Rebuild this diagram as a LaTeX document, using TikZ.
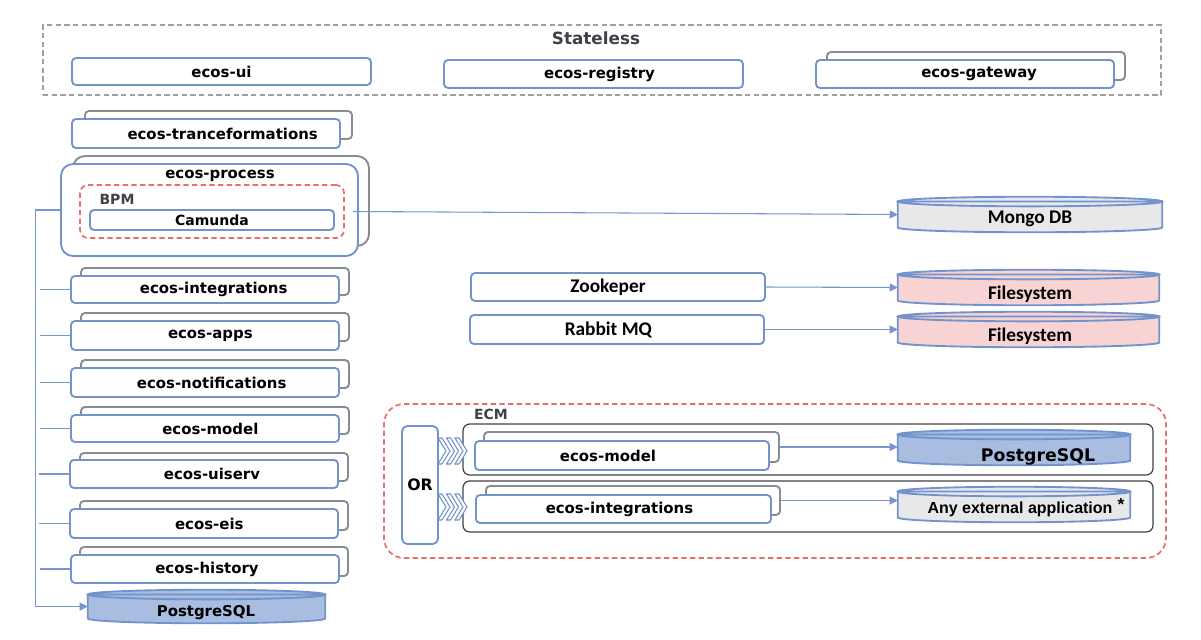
\documentclass[tikz,border=0pt]{standalone}
\usepackage{fontspec}
\usetikzlibrary{calc,arrows.meta}
\newfontfamily\dejavu{DejaVu Sans}
\newfontfamily\carl{Carlito}
\newfontfamily\libsans{Liberation Sans}
\definecolor{bl}{RGB}{114,147,203}
\definecolor{bk}{RGB}{136,139,150}
\definecolor{rd}{RGB}{234,110,110}
\definecolor{dg}{RGB}{64,64,72}
\definecolor{dbblue}{RGB}{169,189,224}
\definecolor{dbpink}{RGB}{248,211,211}
\definecolor{dbgray}{RGB}{231,232,234}
\definecolor{lnc}{RGB}{120,150,205}
\tikzset{
 fbox/.style={draw=bl, line width=1.4pt, rounded corners=3pt, fill=white, inner sep=0pt, font=\dejavu\bfseries\fontsize{11.2}{13}\selectfont},
 bbox/.style={draw=bk, line width=1.4pt, rounded corners=3pt, fill=white, inner sep=0pt},
 cbox/.style={draw=bl, line width=1.4pt, rounded corners=3pt, fill=white, inner sep=0pt, font=\carl\bfseries\fontsize{14.5}{16}\selectfont},
 dbnode/.style={inner sep=0pt},
 dbtxt/.style={font=\carl\bfseries\fontsize{14.5}{16}\selectfont, inner sep=0pt},
 dbtxtb/.style={font=\dejavu\bfseries\fontsize{13}{15}\selectfont, inner sep=0pt},
 grp/.style={font=\dejavu\bfseries\fontsize{10.5}{12}\selectfont, text=dg, inner sep=0pt},
 rowbox/.style={draw=dg, line width=0.9pt, rounded corners=5pt, inner sep=0pt},
 reddash/.style={draw=rd, line width=1.3pt, dash pattern=on 4pt off 2.5pt, inner sep=0pt},
 conn/.style={draw=lnc, line width=0.8pt},
 arr/.style={conn, -{Triangle[length=6pt,width=6pt]}},
 chev/.style={draw=bl, fill=white, line width=0.8pt},
}
% \bx{style}{name}{x1}{y1}{x2}{y2}{text}  (pixel coordinates of the corners)
\newcommand\bx[7]{\node[#1, minimum width={(#5-#3)*0.75pt}, minimum height={(#6-#4)*0.75pt}] (#2) at ({(#3+#5)/2},{(#4+#6)/2}) {#7};}
\newcommand\cyl[2]{%
  \path[draw=bl, line width=1.4pt, fill=#2] let \p1=(#1.north west), \p2=(#1.south east), \n1={(\x2-\x1)/2} in
   (\x1,\y1-3.6pt) -- (\x1,\y2+3.6pt) arc[start angle=180, end angle=360, x radius=\n1, y radius=3.6pt] -- (\x2,\y1-3.6pt) -- cycle
   ({(\x1+\x2)/2},\y1-3.6pt) ellipse[x radius=\n1, y radius=3.6pt];}
\newcommand\chevs[2]{%
  \foreach \k in {0,8.5,17}{
    \draw[chev] (#1+\k,#2-13) -- ++(4,0) -- ++(8,13) -- ++(-8,13) -- ++(-4,0) -- ++(8,-13) -- cycle;}}
\begin{document}
\begin{tikzpicture}[x=0.75pt, y=-0.75pt]
\useasboundingbox (0,0) rectangle (1201,639);

% Stateless group
\bx{draw=gray!75, line width=0.8pt, dash pattern=on 4pt off 2.5pt, inner sep=0pt}{stl}{43}{25}{1161}{95}{}
\node[font=\dejavu\bfseries\fontsize{12.6}{14}\selectfont, text=dg, inner sep=0pt] (stl-t) at (596,38) {Stateless};
\bx{fbox}{ui}{72}{58}{371}{85}{ecos-ui}
\bx{fbox}{reg}{444}{60}{743}{88}{\hspace*{9pt}ecos-registry}
\bx{bbox}{gw-b}{827}{52}{1125}{80}{}
\bx{fbox}{gw}{816}{60}{1114}{88}{\hspace*{21pt}ecos-gateway}

% left column
\bx{bbox}{tr-b}{85}{111}{352}{139}{}
\bx{fbox}{tr}{72}{119}{340}{148}{\hspace*{25pt}ecos-tranceformations}

\bx{bbox, rounded corners=9pt}{proc-b}{73}{156}{369}{246}{}
\bx{fbox, rounded corners=9pt}{proc}{61}{164}{358}{256}{}
\node[fbox, draw=none, fill=none] (proc-t) at (220,176) {ecos-process};
\bx{reddash, rounded corners=6pt}{bpm}{80}{185}{344}{238}{}
\node[grp] (bpm-t) at (117,199) {BPM};
\bx{fbox, font=\dejavu\bfseries\fontsize{10.5}{12}\selectfont}{cam}{90}{210}{334}{230}{Camunda}

\bx{bbox}{int1-b}{81}{268}{349}{295}{}
\bx{fbox}{int1}{71}{276}{339}{303}{\hspace*{13pt}ecos-integrations}
\bx{bbox}{apps-b}{81}{313}{349}{341}{}
\bx{fbox}{apps}{71}{321}{339}{350}{\hspace*{8pt}ecos-apps}
\bx{bbox}{notif-b}{81}{360}{349}{388}{}
\bx{fbox}{notif}{71}{368}{339}{397}{\hspace*{10pt}ecos-notifications}
\bx{bbox}{model1-b}{81}{407}{349}{434}{}
\bx{fbox}{model1}{71}{415}{339}{442}{\hspace*{8pt}ecos-model}
\bx{bbox}{uisv-b}{80}{453}{348}{481}{}
\bx{fbox}{uisv}{70}{460}{338}{488}{\hspace*{12pt}ecos-uiserv}
\bx{bbox}{eis-b}{80}{501}{348}{530}{}
\bx{fbox}{eis}{70}{509}{338}{538}{\hspace*{8pt}ecos-eis}
\bx{bbox}{hist-b}{80}{547}{348}{576}{}
\bx{fbox}{hist}{71}{555}{339}{583}{\hspace*{3pt}ecos-history}

\bx{dbnode}{pg1}{88}{590}{325}{623}{}
\cyl{pg1}{dbblue}
\node[fbox, draw=none, fill=none] (pg1-t) at (206,613) {PostgreSQL};

% databases right
\bx{dbnode}{mongo}{898}{197}{1162}{232}{}
\cyl{mongo}{dbgray}
\node[dbtxt] (mongo-t) at (1030,219) {Mongo DB};

\bx{cbox}{zk}{471}{273}{765}{301}{Zookeper\hspace*{15pt}}
\bx{dbnode}{fs1}{898}{270}{1159}{305}{}
\cyl{fs1}{dbpink}
\node[dbtxt] (fs1-t) at (1030,294) {Filesystem};

\bx{cbox}{rmq}{470}{315}{764}{344}{Rabbit MQ\hspace*{13pt}}
\bx{dbnode}{fs2}{898}{312}{1159}{347}{}
\cyl{fs2}{dbpink}
\node[dbtxt] (fs2-t) at (1030,336) {Filesystem};

% ECM group
\bx{reddash, rounded corners=15pt}{ecm}{384}{404}{1166}{558}{}
\node[grp] (ecm-t) at (491,414) {ECM};
\bx{fbox, rounded corners=4pt, font=\dejavu\bfseries\fontsize{11.8}{13}\selectfont}{or}{402}{426}{438}{544}{OR}
\bx{rowbox}{row1}{463}{424}{1153}{475}{}
\bx{rowbox}{row2}{463}{481}{1153}{532}{}
\chevs{438}{451}
\chevs{438}{507}

\bx{bbox}{model2-b}{484}{432}{779}{462}{}
\bx{fbox}{model2}{475}{441}{769}{470}{ecos-model\hspace*{21pt}}
\bx{dbnode}{pg2}{898}{430}{1130}{465}{}
\cyl{pg2}{dbblue}
\node[dbtxtb] (pg2-t) at (1038,457) {PostgreSQL};

\bx{bbox}{int2-b}{486}{486}{780}{515}{}
\bx{fbox}{int2}{476}{495}{771}{523}{ecos-integrations\hspace*{6pt}}
\bx{dbnode}{ext}{898}{487}{1130}{522}{}
\cyl{ext}{dbgray}
\node[font=\libsans\bfseries\fontsize{12}{14}\selectfont, inner sep=0pt] (ext-t) at (1020,509) {Any external application};
\node[font=\libsans\bfseries\fontsize{13}{14}\selectfont, inner sep=0pt] (ext-s) at (1121,505) {*};

% connectors
\draw[arr] ($(bpm.east)+(8,0)$ |- mongo.west) -- (mongo.west);
\draw[arr] (zk.east) -- (fs1.west);
\draw[arr] (rmq.east) -- (fs2.west);
\draw[arr] (model2-b.east) -- (model2-b.east -| pg2.west);
\draw[arr] (int2-b.east) -- (int2-b.east -| ext.west);
\draw[arr] (proc.west) -- ++(-25,0) |- (pg1.west);
\foreach \n in {int1,apps,notif,model1,uisv,eis,hist}
  \draw[conn] ($(\n.west)+(-30,0)$) -- (\n.west);
\end{tikzpicture}
\end{document}
